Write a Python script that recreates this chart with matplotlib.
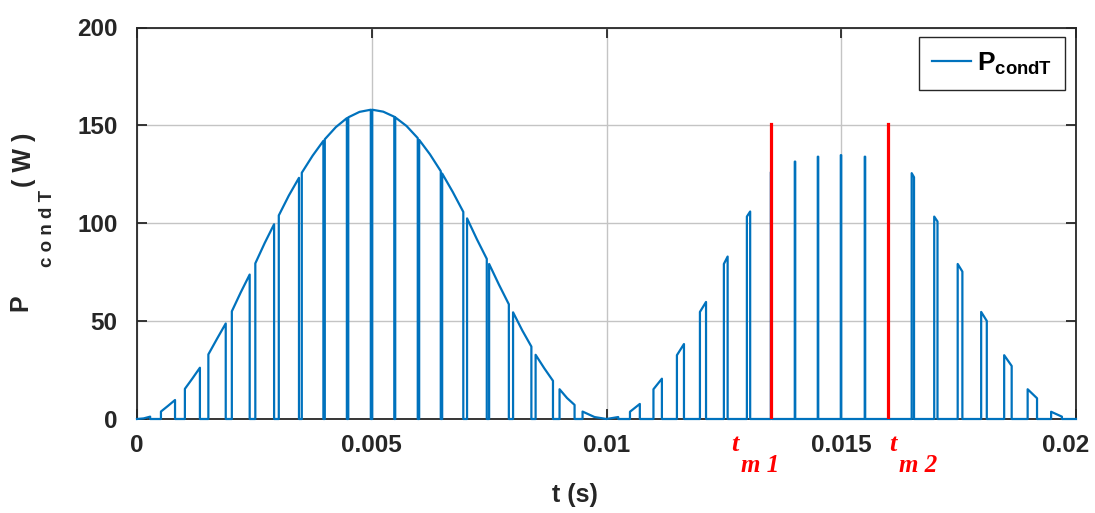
import numpy as np
import matplotlib
matplotlib.use("Agg")
from matplotlib import pyplot as plt
from matplotlib.transforms import ScaledTranslation

# conduction loss of the IGBT, times in ms, power in W
# first half period: wide pulses (on edge, middle of the top, off edge)
on1 = [0.00, 0.51, 1.02, 1.52, 2.02, 2.52, 3.02, 3.51, 4.00, 4.50,
       5.01, 5.50, 6.01, 6.50, 7.03, 7.50, 8.01, 8.49, 9.00, 9.49]
off1 = [0.28, 0.81, 1.34, 1.89, 2.40, 2.92, 3.45, 3.97, 4.47, 4.98,
        5.48, 5.98, 6.47, 6.95, 7.45, 7.92, 8.40, 8.86, 9.32, 10.00]
p_on1 = [0.0, 3.8, 15.4, 33.0, 55.0, 79.5, 104.0, 125.8, 142.9, 154.1,
         158.0, 154.1, 142.6, 125.4, 102.5, 79.2, 54.5, 32.8, 15.2, 3.8]
p_mid1 = [0.3, 6.7, 20.7, 41.0, 64.7, 89.9, 114.2, 134.5, 149.1, 156.9,
          157.0, 149.7, 135.2, 116.0, 91.8, 68.6, 45.3, 25.9, 10.7, 1.0]
p_off1 = [1.2, 9.7, 26.2, 48.8, 73.8, 99.5, 123.2, 142.1, 153.7, 158.0,
          154.4, 143.5, 126.6, 105.8, 81.8, 58.6, 37.0, 19.5, 7.2, 0.0]

# second half period: narrow pulses
on2 = [10.00, 10.50, 11.00, 11.50, 11.99, 12.50, 12.99, 13.50, 14.01, 14.50,
       14.99, 15.50, 16.00, 16.50, 16.98, 17.48, 17.98, 18.47, 18.97, 19.47]
off2 = [10.25, 10.71, 11.18, 11.65, 12.12, 12.58, 13.06, 13.52, 14.02, 14.51,
        15.00, 15.51, 16.01, 16.55, 17.05, 17.58, 18.10, 18.63, 19.17, 19.70]
p_on2 = [0.0, 3.7, 15.2, 32.6, 54.7, 79.2, 103.4, 126.0, 131.5, 134.0,
         134.8, 134.0, 131.0, 125.6, 103.4, 79.2, 54.7, 32.6, 15.2, 3.7]
p_off2 = [1.0, 7.7, 20.6, 38.3, 59.8, 83.0, 106.0, 127.0, 131.5, 134.0,
          134.8, 134.0, 131.0, 123.5, 100.9, 75.3, 50.1, 27.1, 10.6, 1.2]

t_end = 20.0
tm = [13.51, 16.00]
tm_height = 150.6
tm_names = ['m 1', 'm 2']
tm_t_x = [12.74, 16.10]     # where the "t" of each label sits
tm_sub_x = [13.27, 16.63]   # where its subscript sits

blue = '#0072BD'
dark = '#262626'

plt.rcParams['font.family'] = ['Liberation Sans', 'DejaVu Sans']
plt.rcParams['font.weight'] = 'bold'
plt.rcParams['mathtext.fontset'] = 'custom'
plt.rcParams['mathtext.bf'] = 'Liberation Sans:bold'
plt.rcParams['mathtext.rm'] = 'Liberation Sans:bold'

# build the switched waveform
t, p = [], []
for a, b, pa, pm, pb in zip(on1, off1, p_on1, p_mid1, p_off1):
    t += [a, a, (a + b) / 2, b, b]
    p += [0, pa, pm, pb, 0]
for a, b, pa, pb in zip(on2, off2, p_on2, p_off2):
    t += [a, a, b, b]
    p += [0, pa, pb, 0]
t.append(t_end)
p.append(0)
t = np.array(t) * 1e-3
p = np.array(p)

fig = plt.figure(figsize=(10.95, 5.13), dpi=100)
ax = fig.add_axes([137 / 1095, 1 - 419 / 513, 939 / 1095, 391.5 / 513])

ax.plot(t, p, color=blue, lw=1.6, clip_on=False, zorder=3,
        label=r'$\mathbf{P}_{\mathbf{condT}}$')
for x in tm:
    ax.plot([x * 1e-3, x * 1e-3], [0, tm_height], color='#FF0000', lw=2.3, zorder=4)

ax.set_xlim(0, 0.02)
ax.set_ylim(0, 200)
ax.set_xticks([0, 0.005, 0.01, 0.015, 0.02])
ax.set_xticklabels(['0', '0.005', '0.01', '0.015', '0.02'])
ax.set_yticks([0, 50, 100, 150, 200])
ax.grid(True, color='#c4c4c4', lw=1.0)
ax.set_axisbelow(True)
ax.tick_params(direction='in', length=7, width=1.3, colors=dark,
               labelsize=17.5, top=True, right=True)
ax.tick_params(axis='x', pad=11)
ax.tick_params(axis='y', pad=14)
for lab in ax.get_xticklabels() + ax.get_yticklabels():
    lab.set_fontweight('bold')
last = ax.get_xticklabels()[-1]
last.set_transform(last.get_transform() + ScaledTranslation(-0.1, 0, fig.dpi_scale_trans))
for s in ax.spines.values():
    s.set_linewidth(1.3)
    s.set_color(dark)

ax.set_xlabel('t (s)', fontsize=18, color=dark, fontweight='bold')
ax.xaxis.set_label_coords(0.466, -0.163)

# y label built from pieces, rotated
fig.text(20 / 1095, 1 - 303 / 513, 'P', rotation=90, fontsize=18, fontweight='bold',
         color=dark, ha='center', va='center')
fig.text(47 / 1095, 1 - 228 / 513, 'c o n d T', rotation=90, fontsize=13.5,
         fontweight='bold', color=dark, ha='center', va='center')
fig.text(24 / 1095, 1 - 160 / 513, '( W )', rotation=90, fontsize=18, fontweight='bold',
         color=dark, ha='center', va='center')

for x1, x2, name in zip(tm_t_x, tm_sub_x, tm_names):
    ax.text(x1 * 1e-3, -13.0, 't', color='#FF0000', fontsize=19,
            family='Liberation Serif', style='italic', weight='bold',
            ha='center', va='center', clip_on=False)
    ax.text(x2 * 1e-3, -23.5, name, color='#FF0000', fontsize=18,
            family='Liberation Serif', style='italic', weight='bold',
            ha='center', va='center', clip_on=False)

leg = ax.legend(loc='upper right', bbox_to_anchor=(0.9883, 0.9757), fontsize=19,
                handlelength=1.5, handletextpad=0.2, borderpad=0.5, borderaxespad=0,
                fancybox=False, framealpha=1, edgecolor=dark)
leg.get_frame().set_linewidth(1.0)

fig.savefig('out.png', dpi=100)
